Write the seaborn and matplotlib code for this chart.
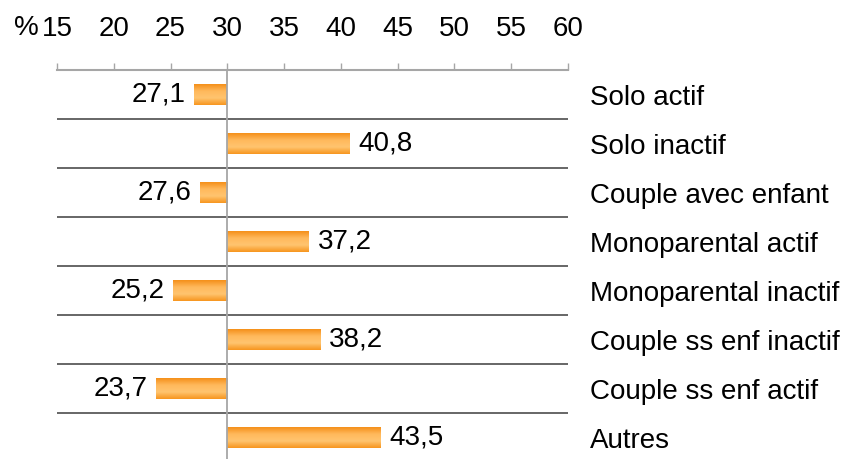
import matplotlib

matplotlib.use("Agg")
import matplotlib.pyplot as plt
import numpy as np
import pandas as pd
import seaborn as sns
from matplotlib.colors import LinearSegmentedColormap

""" Data """
categories = [
    "Solo actif",
    "Solo inactif",
    "Couple avec enfant",
    "Monoparental actif",
    "Monoparental inactif",
    "Couple ss enf inactif",
    "Couple ss enf actif",
    "Autres",
]
values = [27.1, 40.8, 27.6, 37.2, 25.2, 38.2, 23.7, 43.5]
baseline = 30
tick_values = [15, 20, 25, 30, 35, 40, 45, 50, 55, 60]

""" Parameter settings """
sns.set_style("white")
plt.rcParams["font.family"] = ["Liberation Sans", "DejaVu Sans"]
plt.rcParams["text.color"] = "black"
font_size = 20
axis_grey = "#A6A6A6"
bar_cmap = LinearSegmentedColormap.from_list(
    "orange_bar", ["#F5901A", "#FFB95C", "#FFC46F", "#F7961F"]
)

df = pd.DataFrame({"categorie": categories, "ecart": np.array(values) - baseline})

fig = plt.figure(figsize=(8.47, 4.59), dpi=100)
ax = fig.add_axes([57 / 847, 0, 511 / 847, 389 / 459])

sns.barplot(
    data=df,
    x="ecart",
    y="categorie",
    orient="h",
    color="#F7941E",
    saturation=1,
    width=0.41,
    ax=ax,
)

# gradient fill on each bar
gradient = np.linspace(0, 1, 64).reshape(-1, 1)
for patch in ax.patches:
    bb = patch.get_bbox()
    im = ax.imshow(
        gradient,
        extent=[bb.x0, bb.x1, bb.y1, bb.y0],
        aspect="auto",
        cmap=bar_cmap,
        origin="upper",
        zorder=patch.get_zorder() + 0.1,
    )
    im.set_clip_path(patch)
    patch.set_edgecolor("none")

ax.bar_label(
    ax.containers[0],
    labels=[f"{v:.1f}".replace(".", ",") for v in values],
    padding=6,
    fontsize=font_size,
    color="black",
)

# row separators and baseline
ax.hlines(np.arange(0.5, len(categories) - 1, 1), -15, 30, color="#4D4D4D", lw=1.2, zorder=1)
ax.axvline(0, color=axis_grey, lw=1.3, zorder=4)

ax.set_xlim(-15, 30)
ax.set_ylim(len(categories) - 0.5 - 3 / 49, -0.5)

ax.xaxis.tick_top()
ax.set_xticks(np.array(tick_values) - baseline)
ax.set_xticklabels([str(t) for t in tick_values])
ax.tick_params(
    axis="x", direction="out", length=5, width=1, color=axis_grey,
    pad=15, labelsize=font_size, labelcolor="black",
)
ax.yaxis.tick_right()
ax.tick_params(axis="y", length=0, pad=16, labelsize=font_size, labelcolor="black")
ax.set(xlabel="", ylabel="")

for side in ["left", "right", "bottom"]:
    ax.spines[side].set_visible(False)
ax.spines["top"].set_color(axis_grey)
ax.spines["top"].set_linewidth(1.5)

fig.text(39 / 847, 1 - 28 / 459, "%", ha="right", va="center", fontsize=font_size)

fig.savefig("out.png", dpi=100)
